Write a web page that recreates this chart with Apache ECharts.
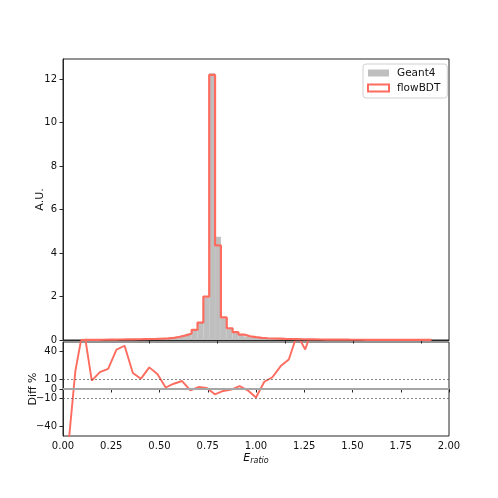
<!DOCTYPE html>
<html>
<head>
<meta charset="utf-8">
<script src="https://cdn.jsdelivr.net/npm/echarts@6/dist/echarts.min.js"></script>
<style>
  html, body { margin: 0; padding: 0; background: #fff; }
  #chartBox { width: 498px; height: 498px; }
</style>
</head>
<body>
<div id="chartBox"></div>
<script>
// top panel: 60 bins (x units of the upper axis, labels hidden)
const binStart = 0.25;
const binWidth = 0.25 * 3 / 35;
const flowBDT = [
  0.005, 0.008, 0.01, 0.012, 0.015, 0.018, 0.022, 0.026, 0.03, 0.035,
  0.04, 0.045, 0.05, 0.06, 0.075, 0.1, 0.15, 0.21, 0.3, 0.47,
  0.8, 2.0, 12.2, 4.35, 1.04, 0.54, 0.36, 0.25, 0.17, 0.13,
  0.1, 0.08, 0.07, 0.06, 0.05, 0.045, 0.04, 0.035, 0.03, 0.027,
  0.024, 0.021, 0.019, 0.017, 0.015, 0.013, 0.012, 0.011, 0.01, 0.009,
  0.008, 0.007, 0.006, 0.005, 0.005, 0.004, 0.004, 0.003, 0.003, 0.002
];
const geant4 = [
  0.004, 0.007, 0.009, 0.011, 0.013, 0.015, 0.018, 0.02, 0.024, 0.03,
  0.033, 0.037, 0.043, 0.052, 0.066, 0.09, 0.14, 0.2, 0.29, 0.46,
  0.8, 1.95, 12.28, 4.75, 1.0, 0.53, 0.35, 0.25, 0.17, 0.12,
  0.09, 0.07, 0.06, 0.05, 0.042, 0.038, 0.034, 0.03, 0.027, 0.024,
  0.022, 0.019, 0.017, 0.015, 0.014, 0.012, 0.011, 0.01, 0.009, 0.008,
  0.007, 0.006, 0.006, 0.005, 0.004, 0.004, 0.003, 0.003, 0.002, 0.002
];
const topTicks = [0.25, 0.5, 0.75, 1.0, 1.25, 1.5];
const topYTicks = [0, 2, 4, 6, 8, 10, 12];

// bottom panel: relative difference in %
const diffX = [
  0.021, 0.064, 0.106, 0.149, 0.191, 0.234, 0.277, 0.319, 0.362, 0.404,
  0.447, 0.489, 0.532, 0.574, 0.617, 0.660, 0.702, 0.745, 0.787, 0.830,
  0.872, 0.915, 0.957, 1.000, 1.043, 1.085, 1.128, 1.170, 1.213, 1.255, 1.298
];
const diffVals = [
  -75, 19, 66, 9, 18, 21.5, 42, 46, 17, 11,
  23, 16, 1.6, 5.6, 8.5, -1.4, 2.1, 1.0, -5.6, -2.1,
  -0.7, 3.1, -1.4, -9.1, 7.7, 12.5, 24.4, 31.4, 58, 42, 68
];
const diffYTicks = [-40, -10, 0, 10, 40];

const red = '#fd6c5f';
const grey = '#bfbfbf';
const font = 'DejaVu Sans';

const nBins = flowBDT.length;
const edges = flowBDT.map((v, i) => binStart + i * binWidth).concat([binStart + nBins * binWidth]);
const span = nBins * binWidth;

const barData = geant4.map((h, i) => [edges[i], edges[i + 1], h]);
const stepData = [[edges[0], 0]];
flowBDT.forEach((h, i) => stepData.push([edges[i], h]));
stepData.push([edges[nBins], flowBDT[nBins - 1]]);
stepData.push([edges[nBins], 0]);

const chart = echarts.init(document.getElementById('chartBox'));

const axisCol = '#262626';
const labelStyle = { fontFamily: font, fontSize: 10, color: '#111' };

const option = {
  animation: false,
  textStyle: { fontFamily: font },
  grid: [
    { left: 63, width: 386, top: 59, height: 281, show: true, borderColor: axisCol, borderWidth: 1 },
    { left: 63, width: 386, top: 342, height: 94, show: true, borderColor: axisCol, borderWidth: 1 }
  ],
  legend: {
    left: 363,
    top: 64,
    orient: 'vertical',
    itemWidth: 21,
    itemHeight: 7,
    itemGap: 3,
    padding: [3, 7, 4, 4],
    borderColor: '#d0d0d0',
    borderWidth: 1,
    borderRadius: 3,
    textStyle: { fontFamily: font, fontSize: 10.5, color: '#111', lineHeight: 12, padding: [0, 0, 0, 3] },
    data: [
      { name: 'Geant4', icon: 'rect', itemStyle: { color: grey, borderWidth: 0 } },
      { name: 'flowBDT', icon: 'rect', itemStyle: { color: '#fff', borderColor: red, borderWidth: 2 } }
    ]
  },
  xAxis: [
    {
      gridIndex: 0,
      type: 'value',
      min: binStart - 0.05 * span,
      max: binStart + 1.05 * span,
      axisLine: { lineStyle: { color: axisCol } },
      axisTick: { customValues: topTicks, length: 3.5, lineStyle: { color: axisCol } },
      axisLabel: { show: false },
      splitLine: { show: false }
    },
    {
      gridIndex: 1,
      type: 'value',
      min: 0,
      max: 2,
      interval: 0.25,
      axisLine: { lineStyle: { color: axisCol } },
      axisTick: { length: 3.5, lineStyle: { color: axisCol } },
      axisLabel: Object.assign({ margin: 5, formatter: v => v.toFixed(2) }, labelStyle),
      splitLine: { show: false },
      name: '{i|E}{s|ratio}',
      nameLocation: 'middle',
      nameGap: 15,
      nameMoveOverlap: false,
      nameTextStyle: {
        rich: {
          i: { fontFamily: font, fontSize: 11, fontStyle: 'italic', color: '#111' },
          s: { fontFamily: font, fontSize: 8, fontStyle: 'italic', color: '#111', verticalAlign: 'bottom', padding: [6, 0, 0, 0] }
        }
      }
    }
  ],
  yAxis: [
    {
      gridIndex: 0,
      type: 'value',
      min: 0,
      max: 12.93,
      axisLine: { show: true, lineStyle: { color: axisCol } },
      axisTick: { show: true, customValues: topYTicks, length: 3.5, lineStyle: { color: axisCol } },
      axisLabel: Object.assign({ customValues: topYTicks, margin: 6 }, labelStyle),
      splitLine: { show: false },
      name: 'A.U.',
      nameLocation: 'middle',
      nameGap: 17,
      nameMoveOverlap: false,
      nameTextStyle: { fontFamily: font, fontSize: 11, color: '#111' }
    },
    {
      gridIndex: 1,
      type: 'value',
      min: -50,
      max: 50,
      axisLine: { show: true, lineStyle: { color: axisCol } },
      axisTick: { show: true, customValues: diffYTicks, length: 3.5, lineStyle: { color: axisCol } },
      axisLabel: Object.assign({
        customValues: diffYTicks, margin: 6,
        formatter: v => (v < 0 ? '\u2212' + Math.abs(v) : String(v))
      }, labelStyle),
      splitLine: { show: false },
      name: 'Diff %',
      nameLocation: 'middle',
      nameGap: 24,
      nameMoveOverlap: false,
      nameTextStyle: { fontFamily: font, fontSize: 11, color: '#111' }
    }
  ],
  series: [
    {
      name: 'Geant4',
      type: 'custom',
      xAxisIndex: 0,
      yAxisIndex: 0,
      encode: { x: [0, 1], y: 2 },
      data: barData,
      renderItem: (params, api) => {
        const p0 = api.coord([api.value(0), api.value(2)]);
        const p1 = api.coord([api.value(1), 0]);
        return {
          type: 'rect',
          shape: { x: p0[0], y: p0[1], width: p1[0] - p0[0], height: p1[1] - p0[1] },
          style: { fill: grey }
        };
      },
      z: 1
    },
    {
      name: 'flowBDT',
      type: 'line',
      xAxisIndex: 0,
      yAxisIndex: 0,
      step: 'end',
      data: stepData,
      showSymbol: false,
      lineStyle: { color: red, width: 2.2 },
      itemStyle: { color: red },
      z: 3
    },
    {
      name: 'refLines',
      type: 'line',
      xAxisIndex: 1,
      yAxisIndex: 1,
      data: [],
      silent: true,
      markLine: {
        silent: true,
        symbol: 'none',
        label: { show: false },
        data: [
          { yAxis: 0, lineStyle: { color: '#a6a6a6', width: 2, type: 'solid' } },
          { yAxis: 10, lineStyle: { color: '#555', width: 0.7, type: [2, 2] } },
          { yAxis: -10, lineStyle: { color: '#555', width: 0.7, type: [2, 2] } }
        ]
      },
      z: 1
    },
    {
      name: 'diff',
      type: 'line',
      xAxisIndex: 1,
      yAxisIndex: 1,
      data: diffX.map((x, i) => [x, diffVals[i]]),
      showSymbol: false,
      clip: true,
      lineStyle: { color: red, width: 1.9 },
      z: 3
    }
  ]
};

chart.setOption(option);
</script>
</body>
</html>
